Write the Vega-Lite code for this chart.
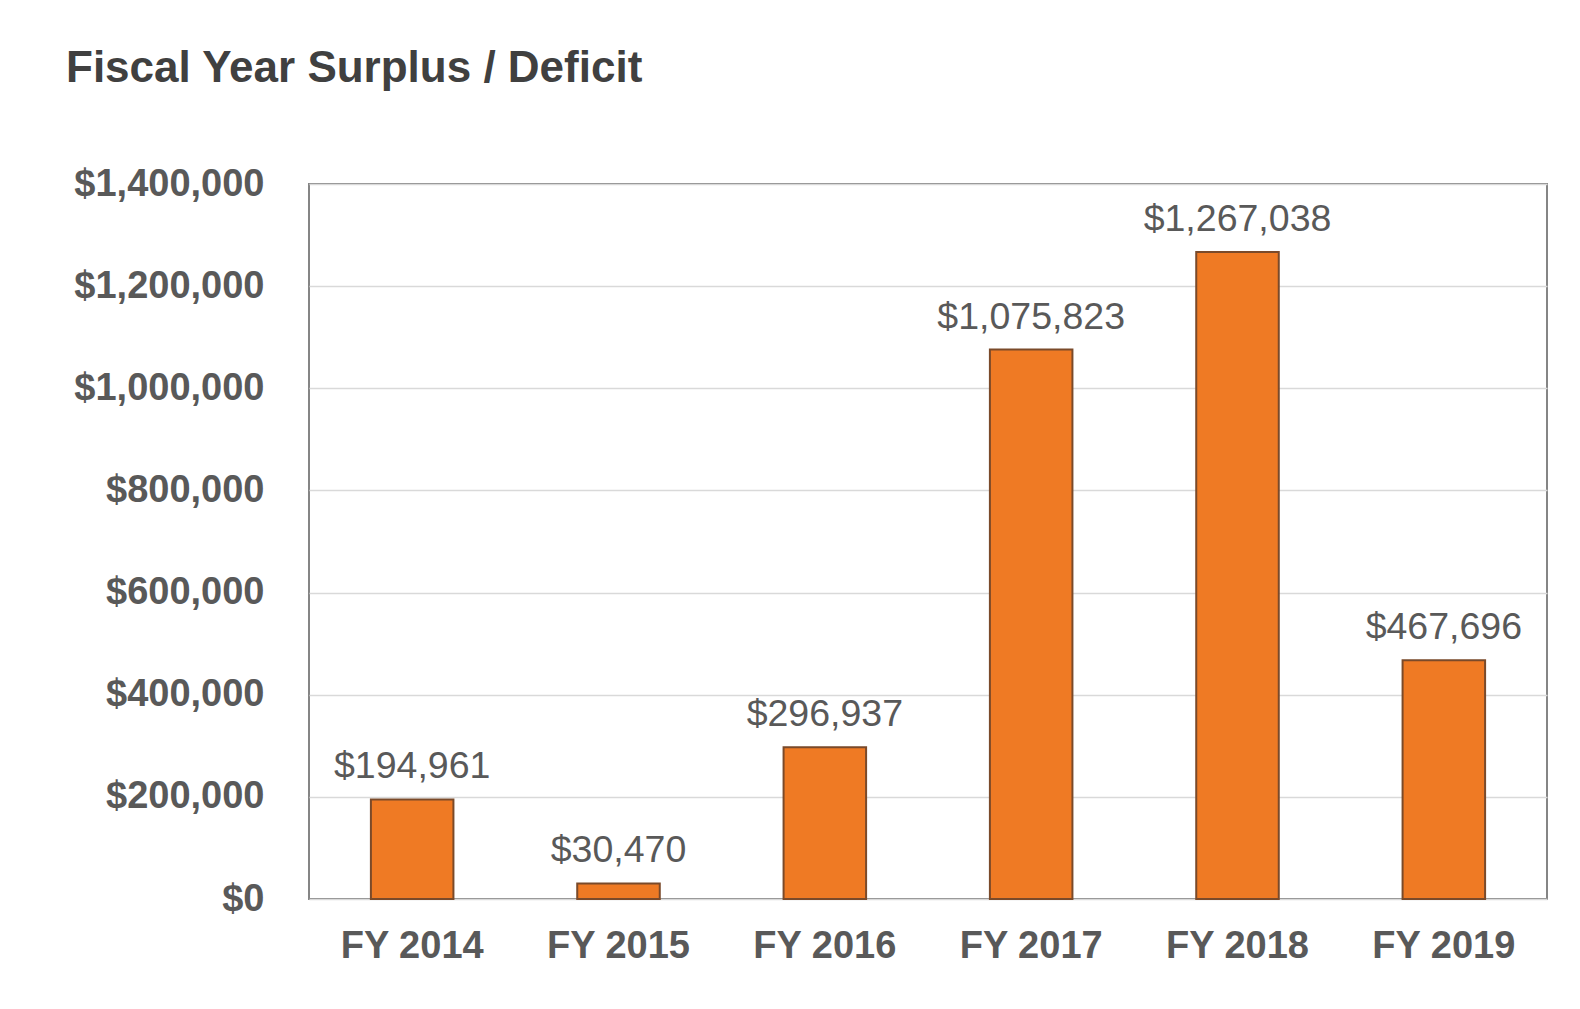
{
  "$schema": "https://vega.github.io/schema/vega-lite/v6.json",
  "width": 1238,
  "height": 715,
  "autosize": {"type": "none"},
  "padding": {"left": 309, "top": 184, "right": 33, "bottom": 110},
  "background": "white",
  "title": {
    "text": "Fiscal Year Surplus / Deficit",
    "anchor": "start",
    "frame": "group",
    "dx": -243,
    "offset": 74,
    "font": "Liberation Sans",
    "fontSize": 44,
    "fontWeight": "bold",
    "color": "#404040"
  },
  "config": {
    "view": {"stroke": "#858585", "strokeWidth": 2},
    "font": "Liberation Sans"
  },
  "data": {
    "values": [
      {"year": "FY 2014", "value": 194961},
      {"year": "FY 2015", "value": 30470},
      {"year": "FY 2016", "value": 296937},
      {"year": "FY 2017", "value": 1075823},
      {"year": "FY 2018", "value": 1267038},
      {"year": "FY 2019", "value": 467696}
    ]
  },
  "encoding": {
    "x": {
      "field": "year",
      "type": "nominal",
      "sort": null,
      "scale": {"paddingInner": 0.6, "paddingOuter": 0.3},
      "axis": {
        "title": null,
        "labelAngle": 0,
        "labelFont": "Liberation Sans",
        "labelFontSize": 38,
        "labelFontWeight": "bold",
        "labelColor": "#595959",
        "labelPadding": 28,
        "labelLimit": 0,
        "ticks": false,
        "domain": false
      }
    },
    "y": {
      "field": "value",
      "type": "quantitative",
      "scale": {"domain": [0, 1400000], "nice": false},
      "axis": {
        "title": null,
        "values": [0, 200000, 400000, 600000, 800000, 1000000, 1200000, 1400000],
        "format": "$,.0f",
        "labelFont": "Liberation Sans",
        "labelFontSize": 38,
        "labelFontWeight": "bold",
        "labelColor": "#595959",
        "labelPadding": 45,
        "labelLimit": 0,
        "ticks": false,
        "domain": false,
        "gridColor": "#d9d9d9",
        "gridWidth": 1.5
      }
    }
  },
  "layer": [
    {
      "mark": {"type": "bar", "fill": "#EF7A24", "stroke": "#7a4a2a", "strokeWidth": 2}
    },
    {
      "mark": {
        "type": "text",
        "baseline": "alphabetic",
        "dy": -21,
        "font": "Liberation Sans",
        "fontSize": 37.5,
        "color": "#595959"
      },
      "encoding": {
        "text": {"field": "value", "type": "quantitative", "format": "$,.0f"}
      }
    }
  ]
}
